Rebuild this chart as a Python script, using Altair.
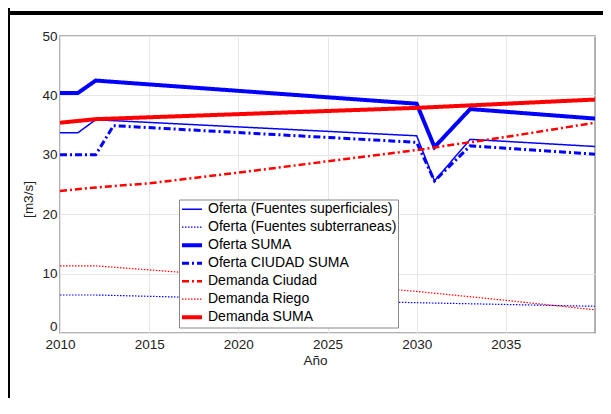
import altair as alt
import pandas as pd

# ---- data ----
series = [
    "Oferta (Fuentes superficiales)",
    "Oferta (Fuentes subterraneas)",
    "Oferta SUMA",
    "Oferta CIUDAD SUMA",
    "Demanda Ciudad",
    "Demanda Riego",
    "Demanda SUMA",
]

sup_years = [2010, 2011, 2012, 2030, 2031, 2033, 2040]
sup_vals = [33.7, 33.7, 35.9, 33.2, 25.6, 32.6, 31.4]

sub_years = [2010, 2012, 2020, 2030, 2040]
sub_vals = [6.4, 6.4, 5.8, 5.1, 4.5]

suma_years = [2010, 2011, 2012, 2030, 2031, 2033, 2040]
suma_vals = [40.4, 40.4, 42.5, 38.6, 31.3, 37.7, 36.1]

ciudad_of_years = [2010, 2012, 2013, 2030, 2031, 2033, 2040]
ciudad_of_vals = [30.0, 30.0, 34.9, 32.1, 25.6, 31.5, 30.1]

dem_ciudad_years = [2010, 2012, 2015, 2020, 2025, 2030, 2035, 2040]
dem_ciudad_vals = [23.9, 24.5, 25.2, 27.0, 28.9, 30.8, 33.0, 35.4]

riego_years = [2010, 2012, 2020, 2030, 2035, 2040]
riego_vals = [11.3, 11.3, 9.5, 7.0, 5.5, 3.9]

dem_suma_years = [2010, 2012, 2030, 2040]
dem_suma_vals = [35.4, 36.0, 37.9, 39.3]

x_ticks = [2010, 2015, 2020, 2025, 2030, 2035]
y_ticks = [0, 10, 20, 30, 40, 50]

# ---- styles ----
colors = ["#0000ff", "#0000ff", "#0000ff", "#0000ff", "#ff0000", "#ff0000", "#ff0000"]
widths = [1.5, 1.2, 4, 3, 2.5, 1.2, 4]
dashes = [[1, 0], [1.5, 1.5], [1, 0], [7, 3, 2, 3], [7, 3, 2, 3], [1.5, 1.5], [1, 0]]

parts = [
    (series[0], sup_years, sup_vals),
    (series[1], sub_years, sub_vals),
    (series[2], suma_years, suma_vals),
    (series[3], ciudad_of_years, ciudad_of_vals),
    (series[4], dem_ciudad_years, dem_ciudad_vals),
    (series[5], riego_years, riego_vals),
    (series[6], dem_suma_years, dem_suma_vals),
]
rows = []
for name, ys, vs in parts:
    for yr, v in zip(ys, vs):
        rows.append({"series": name, "year": yr, "value": v})
df = pd.DataFrame(rows)

FONT = "Liberation Sans"

legend = alt.Legend(
    title=None,
    orient="none",
    legendX=119,
    legendY=163.5,
    direction="vertical",
    symbolType="stroke",
    symbolSize=400,
    clipHeight=17.3,
    labelFontSize=14,
    labelFont=FONT,
    labelColor="#000000",
    strokeColor="#888888",
    fillColor="white",
    padding=1,
    rowPadding=0,
    labelLimit=400,
    labelOffset=4,
)

lines = alt.Chart(df).mark_line(clip=True).encode(
    x=alt.X(
        "year:Q",
        scale=alt.Scale(domain=[2010, 2040], nice=False, zero=False),
        axis=alt.Axis(values=x_ticks, format="d", title="Año", labelPadding=4,
                      titlePadding=3, titleX=255, labelFlush=False),
    ),
    y=alt.Y(
        "value:Q",
        scale=alt.Scale(domain=[0, 50], nice=False),
        axis=alt.Axis(
            values=y_ticks,
            title="[m3/s]",
            labelPadding=3,
            titlePadding=6,
            titleY=163,
            labelFlush=False,
            labelBaseline={"condition": {"test": "datum.value == 0", "value": "bottom"}, "value": "middle"},
        ),
    ),
    color=alt.Color("series:N", scale=alt.Scale(type="ordinal", domain=series, range=colors), legend=legend),
    strokeDash=alt.StrokeDash("series:N", scale=alt.Scale(type="ordinal", domain=series, range=dashes), legend=legend),
    strokeWidth=alt.StrokeWidth("series:N", scale=alt.Scale(type="ordinal", domain=series, range=widths), legend=legend),
    detail="series:N",
    order="year:Q",
)

frame_h = alt.Chart(df).mark_rule(color="black", strokeWidth=3).encode(
    x=alt.value(-52), x2=alt.value(543), y=alt.value(-23)
)
frame_v = alt.Chart(df).mark_rule(color="black", strokeWidth=3).encode(
    x=alt.value(-51.5), y=alt.value(-28), y2=alt.value(370)
)

chart = (
    alt.layer(lines, frame_h, frame_v)
    .properties(
        width=535,
        height=297,
        autosize=alt.AutoSizeParams(type="none"),
        padding={"left": 52, "top": 28, "right": 8, "bottom": 65},
    )
    .configure_view(stroke="#999999", strokeWidth=1.5)
    .configure_axis(
        domain=False,
        ticks=False,
        grid=True,
        gridColor="#e6e6e6",
        gridWidth=1,
        labelFont=FONT,
        labelFontSize=13.5,
        labelColor="#222222",
        titleFont=FONT,
        titleFontSize=13.5,
        titleFontWeight="normal",
        titleColor="#222222",
    )
)

chart.save("out.html", embed_options={"renderer": "svg", "actions": False})
